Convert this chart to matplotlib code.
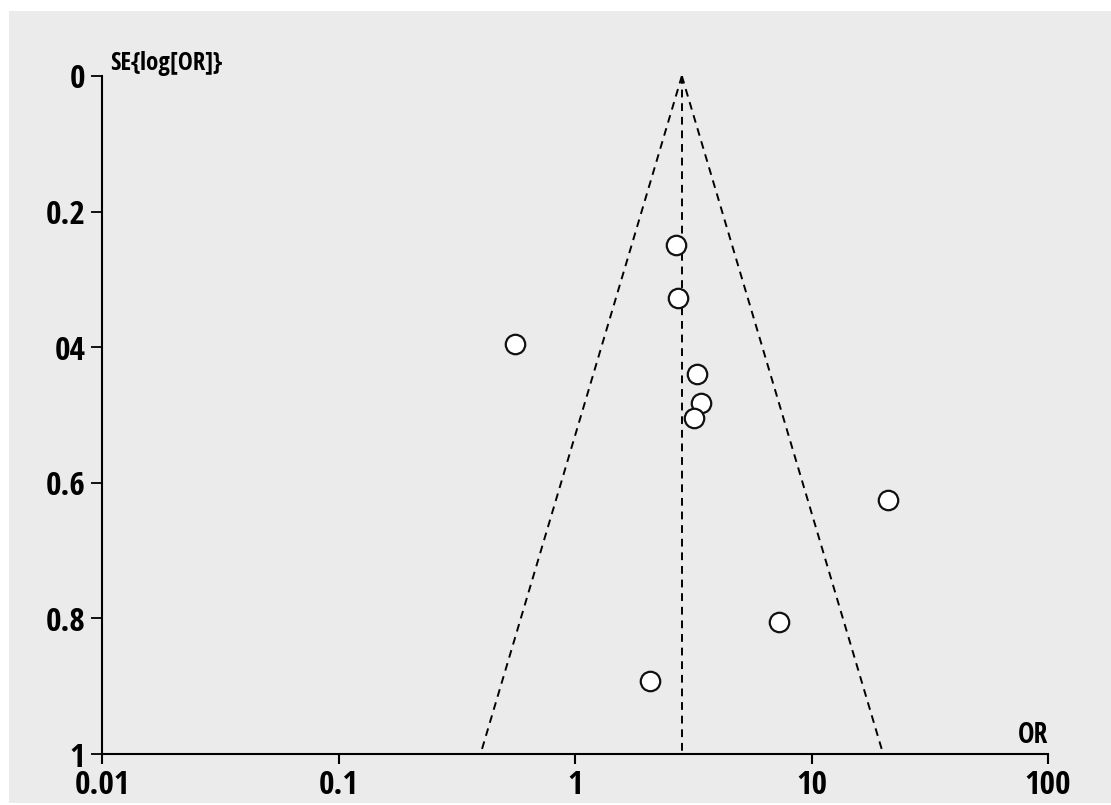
import numpy as np
import matplotlib
matplotlib.use("Agg")
import matplotlib.pyplot as plt
from matplotlib.patches import Rectangle

# ---- data ----
odds_ratio = [2.67, 2.73, 0.557, 3.28, 3.41, 3.19, 21.1, 7.29, 2.08]
se_log_or = [0.249, 0.327, 0.395, 0.440, 0.482, 0.504, 0.625, 0.805, 0.892]
pooled_or = 2.83
se_max = 1.0
x_ticks = [0.01, 0.1, 1, 10, 100]
x_tick_labels = ["0.01", "0.1", "1", "10", "100"]
y_ticks = [0, 0.2, 0.4, 0.6, 0.8, 1]
y_tick_labels = ["0", "0.2", "04", "0.6", "0.8", "1"]

plt.rcParams['font.family'] = ["Open Sans Condensed", "IBM Plex Sans Condensed", "DejaVu Sans"]

W, H = 1111, 805
fig = plt.figure(figsize=(W / 100, H / 100), dpi=100)
fig.patch.set_facecolor("white")
fig.add_artist(Rectangle((9 / W, 2 / H), 1 - 9 / W, (803 - 11) / H, transform=fig.transFigure,
                         facecolor="#ebebeb", edgecolor="none", zorder=0))

ax = fig.add_axes([102 / W, 1 - 754 / H, (1048 - 102) / W, (754 - 76) / H])
ax.set_facecolor("none")
ax.set_xscale("log")
ax.set_xlim(0.01, 100)
ax.set_ylim(1, 0)

# funnel (pseudo 95% confidence limits)
dash = (0, (4, 3))
lc = np.log(pooled_or)
se = np.array([0, se_max])
ax.plot(np.exp(lc - 1.96 * se), se, color="black", lw=1.4, ls=dash, zorder=2)
ax.plot(np.exp(lc + 1.96 * se), se, color="black", lw=1.4, ls=dash, zorder=2)
ax.plot([pooled_or, pooled_or], [0, se_max], color="black", lw=1.4, ls=dash, zorder=2)

ax.plot(odds_ratio, se_log_or, ls="none", marker="o", ms=14, mfc="white", mec="#111111",
        mew=1.6, zorder=3)

for s in ["top", "right"]:
    ax.spines[s].set_visible(False)
for s in ["left", "bottom"]:
    ax.spines[s].set_linewidth(1.5)
ax.set_xticks(x_ticks)
ax.set_xticklabels(x_tick_labels)
ax.xaxis.set_minor_locator(matplotlib.ticker.NullLocator())
ax.set_yticks(y_ticks)
ax.set_yticklabels(y_tick_labels)
ax.tick_params(axis="x", length=7.5, width=1.5, labelsize=24, pad=3)
ax.tick_params(axis="y", length=8, width=1.3, labelsize=24, pad=4)
for lab in ax.get_xticklabels() + ax.get_yticklabels():
    lab.set_fontweight("bold")

ax.text(8 / 946, 1.0 + 6 / 678, "SE{log[OR]}", transform=ax.transAxes, fontsize=18,
        fontweight="bold", ha="left", va="baseline")
ax.text(1.0, 11 / 678, "OR", transform=ax.transAxes, fontsize=20, fontweight="bold",
        ha="right", va="baseline")

fig.savefig("out.png", dpi=100, facecolor="white")
